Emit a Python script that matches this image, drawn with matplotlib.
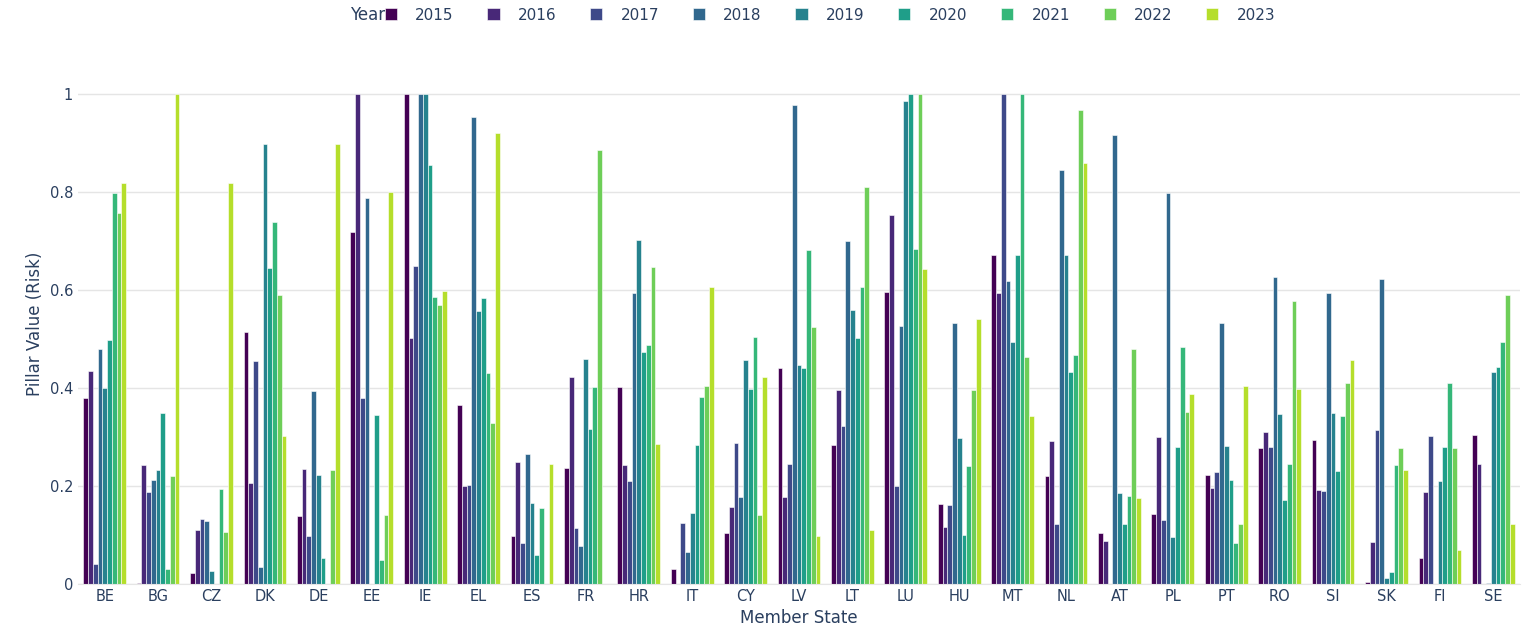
import numpy as np
import matplotlib.pyplot as plt

states = ["BE", "BG", "CZ", "DK", "DE", "EE", "IE", "EL", "ES", "FR", "HR", "IT", "CY", "LV",
          "LT", "LU", "HU", "MT", "NL", "AT", "PL", "PT", "RO", "SI", "SK", "FI", "SE"]
years = ["2015", "2016", "2017", "2018", "2019", "2020", "2021", "2022", "2023"]

# rows = member states, columns = years
values = [
    [.38, .435, .04, .48, .40, .497, .797, .757, .818],
    [.003, .243, .187, .213, .232, .35, .03, .22, 1.0],
    [.022, .11, .133, .128, .026, 0, .193, .107, .818],
    [.515, .207, .455, .035, .898, .645, .738, .59, .303],
    [.138, .235, .097, .393, .222, .054, 0, .232, .898],
    [.718, 1.0, .38, .787, 0, .345, .05, .14, .80],
    [1.0, .503, .65, 1.0, 1.0, .855, .585, .57, .598],
    [.365, .2, .203, .953, .558, .583, .43, .328, .92],
    [.098, .25, .083, .266, .165, .06, .155, 0, .245],
    [.237, .423, .115, .077, .46, .317, .403, .885, 0],
    [.402, .243, .21, .593, .703, .473, .487, .647, .285],
    [.03, 0, .125, .065, .145, .283, .382, .405, .607],
    [.105, .157, .288, .178, .457, .397, .505, .14, .423],
    [.44, .178, .245, .977, .447, .44, .682, .525, .098],
    [.283, .395, .322, .70, .56, .502, .607, .81, .11],
    [.595, .753, .2, .527, .985, 1.0, .683, 1.0, .643],
    [.163, .117, .162, .533, .297, .1, .24, .395, .54],
    [.672, .593, 1.0, .618, .493, .672, 1.0, .463, .342],
    [.22, .292, .123, .845, .672, .432, .467, .968, .86],
    [.105, .087, 0, .916, .185, .123, .18, .48, .175],
    [.143, .3, .13, .797, .095, .28, .483, .352, .387],
    [.222, .195, .228, .532, .282, .212, .083, .123, .405],
    [.277, .31, .28, .627, .347, .172, .245, .577, .398],
    [.293, .192, .19, .593, .35, .23, .342, .41, .457],
    [.005, .085, .315, .623, .013, .025, .243, .277, .233],
    [.053, .188, .303, 0, .21, .28, .41, .277, .07],
    [.305, .245, 0, .003, .433, .443, .493, .59, .123],
]
colors = ["#440154", "#482878", "#3e4989", "#31688e", "#26828e",
          "#1f9e89", "#35b779", "#6ece58", "#b5de2b"]

data = np.array(values)
x = np.arange(len(states))
w = 0.8 / len(years)

fig = plt.figure(figsize=(15.3, 6.41), dpi=100)
ax = fig.add_axes([78 / 1530, 57 / 641, 1442 / 1530, 520 / 641])
for i, yr in enumerate(years):
    ax.bar(x - 0.4 + w * (i + 0.5), data[:, i], width=w, color=colors[i],
           edgecolor="white", linewidth=0.4, label=yr, zorder=2)

ax.set_xlim(-0.5, len(states) - 0.5)
ax.set_ylim(0, 520 / 490)
ax.set_xticks(x)
ax.set_xticklabels(states)
ax.set_yticks([0, 0.2, 0.4, 0.6, 0.8, 1])
ax.set_yticklabels(["0", "0.2", "0.4", "0.6", "0.8", "1"])
ax.grid(axis="y", color="#e5e5e5", linewidth=1, zorder=0)
for s in ["top", "right", "left"]:
    ax.spines[s].set_visible(False)
ax.spines["bottom"].set_color("#e5e5e5")
ax.tick_params(length=0, colors="#2a3f5f", labelsize=10.5)
ax.set_xlabel("Member State", color="#2a3f5f", fontsize=12)
ax.set_ylabel("Pillar Value (Risk)", color="#2a3f5f", fontsize=12)

fig.text(350 / 1530, 1 - 15 / 641, "Year", color="#2a3f5f", fontsize=12, va="center")
leg = fig.legend(loc="center", bbox_to_anchor=(830 / 1530, 1 - 15 / 641), ncol=9, frameon=False,
                 fontsize=11, handlelength=0.8, handleheight=0.8, columnspacing=2.2,
                 handletextpad=1.2)
for t in leg.get_texts():
    t.set_color("#2a3f5f")

fig.savefig("out.png", dpi=100, facecolor="white")
